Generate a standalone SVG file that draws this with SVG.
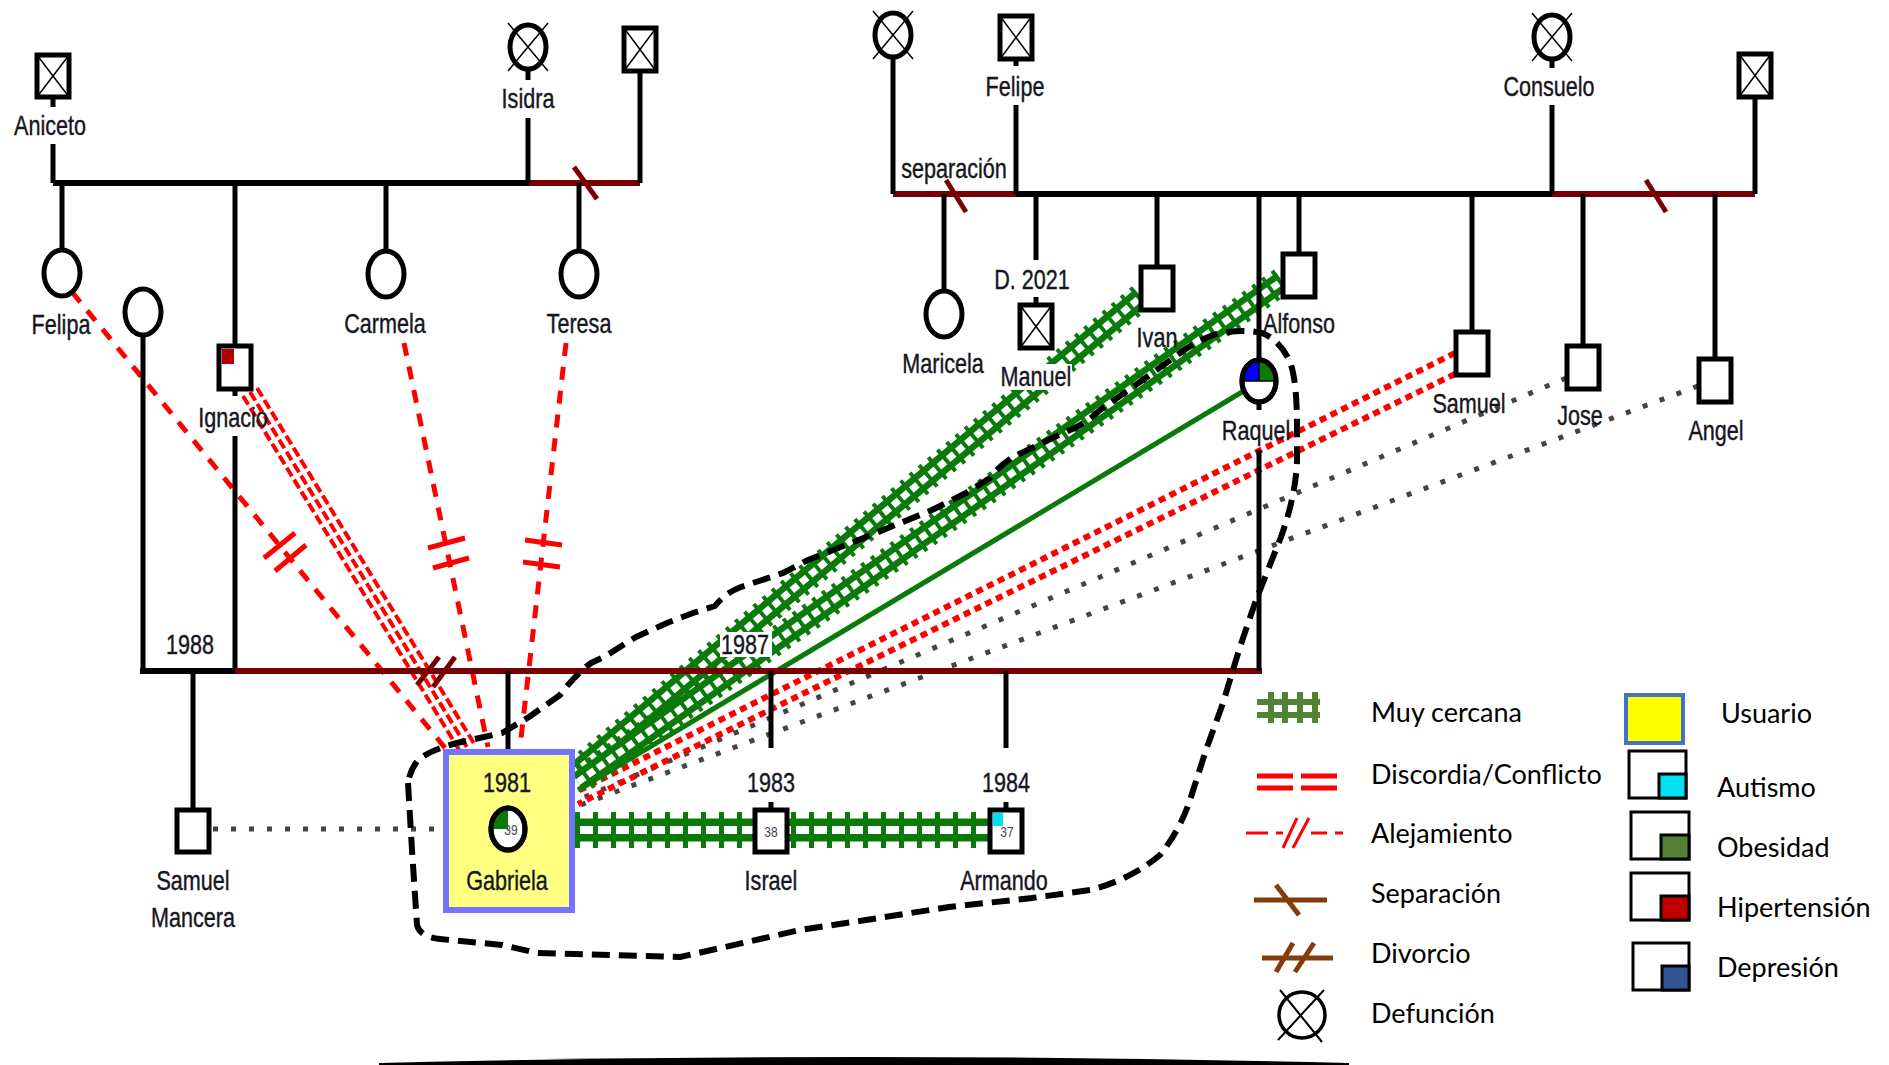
<svg xmlns="http://www.w3.org/2000/svg" xmlns:xlink="http://www.w3.org/1999/xlink" width="1889" height="1065" viewBox="0 0 1889 1065">
<style>
.b{fill:#fff;stroke:#000;stroke-width:5}
.c{fill:#fff;stroke:#000;stroke-width:5}
.x{stroke:#000;stroke-width:1.5;fill:none}
.fl{stroke:#000;stroke-width:5;fill:none}
.fm{stroke:#000;stroke-width:6;fill:none}
.fr{stroke:#780000;stroke-width:6;fill:none}
.sl{stroke:#780000;stroke-width:5;fill:none}
.t{font-family:"Liberation Sans",Arial,sans-serif;font-size:27px;fill:#161622;stroke:#161622;stroke-width:0.4;text-anchor:middle}
.s{font-family:"Liberation Sans",Arial,sans-serif;font-size:15px;fill:#445;text-anchor:middle}
.lg{font-family:Lato,"Liberation Sans",sans-serif;font-size:27px;fill:#000}
.al{stroke:#ff0000;stroke-width:5;fill:none;stroke-dasharray:13 11}
.am{stroke:#ff0000;stroke-width:5;fill:none}
.dc{stroke:#ff0000;stroke-width:4;fill:none;stroke-dasharray:10 4}
.dr{stroke:#ff0000;stroke-width:6;fill:none;stroke-dasharray:7 5}
.gd{stroke:#444;stroke-width:5;fill:none;stroke-dasharray:5 13}
.gl{stroke:#0a7a0a;stroke-width:5;fill:none}
.cb1{stroke:#0a7a0a;stroke-width:20;fill:none}
.cb2{stroke:#fff;stroke-width:7;fill:none}
.cb3{stroke:#0a7a0a;stroke-width:28;fill:none;stroke-dasharray:4 8}
.ch1{stroke:#0a7a0a;stroke-width:23;fill:none}
.ch2{stroke:#fff;stroke-width:8;fill:none}
.ch3{stroke:#0a7a0a;stroke-width:36;fill:none;stroke-dasharray:5 13}
.enc{stroke:#000;stroke-width:6;fill:none;stroke-dasharray:18 9;stroke-linejoin:round}
</style>
<defs>
<path id="rIvan" d="M1141,297 L578,770"/>
<path id="rAlf" d="M1282,281 L578,782"/>
<path id="rSib" d="M575,830 L990,830"/>
</defs>
<rect width="1889" height="1065" fill="#fff"/>

<g id="connectors">
<path class="al" d="M72,292 L446,749"/>
<path class="am" d="M264,558 L295,533 M275,571 L306,545"/>
<path class="al" d="M404,343 L488,747"/>
<path class="am" d="M428,548 L465,538 M433,568 L469,558"/>
<path class="al" d="M566,343 L520,747"/>
<path class="am" d="M525,540 L562,545 M523,562 L560,567"/>
<path class="dc" d="M243,396 L461,753 M250,392 L468,749 M257,388 L475,745"/>
<path class="gd" d="M1566,378 L578,800"/>
<path class="gd" d="M1698,386 L578,806"/>
<path class="gd" d="M213,829 L443,829"/>
<path class="dr" d="M1455,353 L578,791 M1455,374 L578,804"/>
<path class="gl" d="M1242,392 L578,790"/>
<use href="#rIvan" class="cb1"/><use href="#rIvan" class="cb2"/><use href="#rIvan" class="cb3"/>
<use href="#rAlf" class="cb1"/><use href="#rAlf" class="cb2"/><use href="#rAlf" class="cb3"/>
<use href="#rSib" class="ch1"/><use href="#rSib" class="ch2"/><use href="#rSib" class="ch3"/>
</g>

<g id="family-lines">
<path class="fm" d="M53,183 L529,183"/>
<path class="fr" d="M529,183 L640,183"/>
<path class="sl" d="M574,167 L597,199"/>
<path class="fl" d="M53,97 L53,107 M53,144 L53,183 M528,70 L528,80 M528,118 L528,183 M640,71 L640,183 M62,183 L62,250 M235,183 L235,346 M235,389 L235,396 M235,436 L235,671 M386,183 L386,251 M579,183 L579,251 M143,335 L143,671"/>
<path class="fm" d="M140,671 L235,671"/>
<path class="fr" d="M235,671 L1262,671"/>
<path class="sl" d="M417,685 L439,657 M433,687 L455,657"/>
<path class="fl" d="M193,671 L193,810 M508,671 L508,749 M771,671 L771,748 M771,802 L771,810 M1006,671 L1006,748 M1006,802 L1006,810 M1259,194 L1259,360 M1259,402 L1259,410 M1259,450 L1259,671"/>
<path class="fr" d="M893,194 L1016,194"/>
<path class="sl" d="M946,180 L966,212"/>
<path class="fm" d="M1016,194 L1552,194"/>
<path class="fr" d="M1552,194 L1755,194"/>
<path class="sl" d="M1646,180 L1666,212"/>
<path class="fl" d="M893,58 L893,194 M1016,59 L1016,66 M1016,105 L1016,194 M1552,60 L1552,68 M1552,105 L1552,194 M1755,97 L1755,194 M944,194 L944,291 M1036,194 L1036,260 M1036,297 L1036,305 M1157,194 L1157,267 M1299,194 L1299,254 M1472,194 L1472,332 M1583,194 L1583,346 M1715,194 L1715,359"/>
<rect x="1000" y="364" width="72" height="26" fill="#fff"/>
<rect x="720" y="632" width="52" height="25" fill="#fff"/>
<text class="t" transform="translate(190 654) scale(0.8 1)">1988</text>
<text class="t" transform="translate(745 654) scale(0.8 1)">1987</text>
<text class="t" transform="translate(954 178) scale(0.8 1)">separación</text>
</g>

<g id="n-aniceto"><rect class="b" x="37" y="55" width="32" height="42"/><path class="x" d="M37,55L69,97M69,55L37,97"/><text class="t" transform="translate(50 135) scale(0.8 1)">Aniceto</text></g>
<g id="n-isidra"><ellipse class="c" cx="528" cy="47" rx="18" ry="22"/><path class="x" d="M508,23L548,71M548,23L508,71"/><text class="t" transform="translate(528 108) scale(0.8 1)">Isidra</text></g>
<g id="n-abuelo2"><rect class="b" x="624" y="28" width="32" height="43"/><path class="x" d="M624,28L656,71M656,28L624,71"/></g>
<g id="n-felipa"><ellipse class="c" cx="62" cy="273" rx="18" ry="23"/><text class="t" transform="translate(61 334) scale(0.8 1)">Felipa</text></g>
<g id="n-esposa"><ellipse class="c" cx="143" cy="312" rx="18" ry="23"/></g>
<g id="n-ignacio"><rect class="b" x="219" y="346" width="32" height="43"/><rect x="222" y="349" width="12" height="15" fill="#b00000"/><text class="t" transform="translate(233 427) scale(0.8 1)">Ignacio</text></g>
<g id="n-carmela"><ellipse class="c" cx="386" cy="274" rx="18" ry="23"/><text class="t" transform="translate(385 333) scale(0.8 1)">Carmela</text></g>
<g id="n-teresa"><ellipse class="c" cx="579" cy="274" rx="18" ry="23"/><text class="t" transform="translate(579 333) scale(0.8 1)">Teresa</text></g>

<g id="n-abuela3"><ellipse class="c" cx="893" cy="35" rx="18" ry="22"/><path class="x" d="M873,11L913,59M913,11L873,59"/></g>
<g id="n-felipe"><rect class="b" x="1000" y="16" width="32" height="43"/><path class="x" d="M1000,16L1032,59M1032,16L1000,59"/><text class="t" transform="translate(1015 96) scale(0.8 1)">Felipe</text></g>
<g id="n-consuelo"><ellipse class="c" cx="1552" cy="37" rx="18" ry="22"/><path class="x" d="M1532,13L1572,61M1572,13L1532,61"/><text class="t" transform="translate(1549 96) scale(0.8 1)">Consuelo</text></g>
<g id="n-abuelo4"><rect class="b" x="1739" y="54" width="32" height="43"/><path class="x" d="M1739,54L1771,97M1771,54L1739,97"/></g>
<g id="n-maricela"><ellipse class="c" cx="944" cy="314" rx="18" ry="23"/><text class="t" transform="translate(943 373) scale(0.8 1)">Maricela</text></g>
<g id="n-manuel"><rect class="b" x="1020" y="305" width="32" height="43"/><path class="x" d="M1020,305L1052,348M1052,305L1020,348"/><text class="t" transform="translate(1032 289) scale(0.8 1)">D. 2021</text><text class="t" transform="translate(1036 386) scale(0.8 1)">Manuel</text></g>
<g id="n-ivan"><rect class="b" x="1141" y="267" width="32" height="43"/><text class="t" transform="translate(1157 347) scale(0.8 1)">Ivan</text></g>
<g id="n-raquel"><ellipse class="c" cx="1259" cy="381" rx="17" ry="21"/><path d="M1259,381 L1259,360 A17,21 0 0 0 1242,381 Z" fill="#0000ff"/><path d="M1259,381 L1276,381 A17,21 0 0 0 1259,360 Z" fill="#0a7a0a"/><path class="x" d="M1242,381 L1276,381 M1259,360 L1259,381"/><ellipse cx="1259" cy="381" rx="17" ry="21" fill="none" stroke="#000" stroke-width="5"/><text class="t" transform="translate(1256 440) scale(0.8 1)">Raquel</text></g>
<g id="n-alfonso"><rect class="b" x="1283" y="254" width="32" height="43"/><text class="t" transform="translate(1299 333) scale(0.8 1)">Alfonso</text></g>
<g id="n-samuel"><rect class="b" x="1456" y="332" width="32" height="43"/><text class="t" transform="translate(1469 413) scale(0.8 1)">Samuel</text></g>
<g id="n-jose"><rect class="b" x="1567" y="346" width="32" height="43"/><text class="t" transform="translate(1580 425) scale(0.8 1)">Jose</text></g>
<g id="n-angel"><rect class="b" x="1699" y="359" width="32" height="43"/><text class="t" transform="translate(1716 440) scale(0.8 1)">Angel</text></g>

<g id="n-samuel-mancera"><rect class="b" x="177" y="810" width="32" height="42"/><text class="t" transform="translate(193 890) scale(0.8 1)">Samuel</text><text class="t" transform="translate(193 927) scale(0.8 1)">Mancera</text></g>
<g id="n-gabriela"><rect x="446" y="752" width="126" height="158" fill="#ffff80" stroke="#7373ff" stroke-width="6"/><text class="t" transform="translate(507 792) scale(0.8 1)">1981</text><ellipse class="c" cx="508" cy="829" rx="17" ry="21"/><path d="M508,829 L508,808 A17,21 0 0 0 491,829 Z" fill="#0a7a0a"/><ellipse cx="508" cy="829" rx="17" ry="21" fill="none" stroke="#000" stroke-width="5"/><text class="s" transform="translate(511 835) scale(0.8 1)">39</text><text class="t" transform="translate(507 890) scale(0.8 1)">Gabriela</text></g>
<g id="n-israel"><text class="t" transform="translate(771 792) scale(0.8 1)">1983</text><rect class="b" x="755" y="810" width="32" height="42"/><text class="s" transform="translate(771 837) scale(0.8 1)">38</text><text class="t" transform="translate(771 890) scale(0.8 1)">Israel</text></g>
<g id="n-armando"><text class="t" transform="translate(1006 792) scale(0.8 1)">1984</text><rect class="b" x="990" y="810" width="32" height="42"/><rect x="993" y="813" width="10" height="13" fill="#00e0f0"/><text class="s" transform="translate(1007 837) scale(0.8 1)">37</text><text class="t" transform="translate(1004 890) scale(0.8 1)">Armando</text></g>

<g id="enclosure">
<path class="enc" d="M408,783 L412,850 L417,925 Q420,937 440,939 L502,945 L537,953 L680,957 L725,947 L800,930 L866,920 L949,907 L1032,898 L1090,890 Q1130,880 1160,855 Q1180,830 1190,800 L1206,750 L1223,703 L1239,650 L1256,600 L1281,537 Q1296,495 1297,460 L1297,427 Q1297,380 1290,362 Q1280,340 1262,333 Q1240,328 1213,335 Q1195,342 1180,353 L1147,377 L1100,410 Q1090,420 1075,428 L1063,433 L1013,457 Q1000,465 990,478 L966,493 L932,510 L866,537 L808,560 L783,573 L741,587 Q725,593 715,606 L693,613 L667,623 L636,637 L604,657 L591,663 Q575,675 560,695 L529,717 L502,733 L457,743 Q430,750 418,760 Q410,770 408,783 Z"/>
</g>

<g id="legend">
<g id="lg-cercana"><path d="M1257,702 L1320,702 M1257,715 L1320,715 M1271,692 L1271,723 M1285,692 L1285,723 M1300,692 L1300,723 M1315,692 L1315,723" stroke="#548235" stroke-width="6" fill="none"/><text class="lg" x="1371" y="722">Muy cercana</text></g>
<g id="lg-discordia"><path d="M1257,776 L1293,776 M1257,788 L1293,788 M1301,776 L1337,776 M1301,788 L1337,788" stroke="#ff0000" stroke-width="5" fill="none"/><text class="lg" x="1371" y="784">Discordia/Conflicto</text></g>
<g id="lg-alejamiento"><path d="M1246,833 L1268,833 M1276,833 L1283,833 M1283,848 L1297,818 M1293,848 L1309,818 M1311,833 L1327,833 M1335,833 L1343,833" stroke="#ff0000" stroke-width="3" fill="none"/><text class="lg" x="1371" y="843">Alejamiento</text></g>
<g id="lg-separacion"><path d="M1254,900 L1327,900 M1276,885 L1299,915" stroke="#843c0c" stroke-width="5" fill="none"/><text class="lg" x="1371" y="903">Separación</text></g>
<g id="lg-divorcio"><path d="M1262,958 L1333,958 M1276,972 L1293,943 M1295,972 L1314,943" stroke="#843c0c" stroke-width="5" fill="none"/><text class="lg" x="1371" y="963">Divorcio</text></g>
<g id="lg-defuncion"><circle cx="1302" cy="1015" r="23" fill="none" stroke="#000" stroke-width="3.5"/><path d="M1280,990 L1322,1042 M1324,990 L1278,1040" stroke="#000" stroke-width="2" fill="none"/><text class="lg" x="1371" y="1023">Defunción</text></g>
<g id="lg-usuario"><rect x="1626" y="695" width="57" height="48" fill="#ffff00" stroke="#4472c4" stroke-width="4"/><text class="lg" x="1721" y="723">Usuario</text></g>
<g id="lg-autismo"><rect x="1629" y="751" width="57" height="47" fill="#fff" stroke="#000" stroke-width="3"/><rect x="1659" y="774" width="27" height="24" fill="#00e0f0" stroke="#000" stroke-width="3"/><text class="lg" x="1717" y="797">Autismo</text></g>
<g id="lg-obesidad"><rect x="1631" y="812" width="58" height="47" fill="#fff" stroke="#000" stroke-width="3"/><rect x="1661" y="835" width="28" height="24" fill="#548235" stroke="#000" stroke-width="3"/><text class="lg" x="1717" y="857">Obesidad</text></g>
<g id="lg-hipertension"><rect x="1631" y="873" width="58" height="47" fill="#fff" stroke="#000" stroke-width="3"/><rect x="1661" y="896" width="28" height="24" fill="#c00000" stroke="#000" stroke-width="3"/><text class="lg" x="1717" y="917">Hipertensión</text></g>
<g id="lg-depresion"><rect x="1633" y="943" width="56" height="47" fill="#fff" stroke="#000" stroke-width="3"/><rect x="1662" y="966" width="27" height="24" fill="#2f5597" stroke="#000" stroke-width="3"/><text class="lg" x="1717" y="977">Depresión</text></g>
</g>
<path id="base-line" d="M379,1063 Q864,1051 1349,1063 L1349,1065 L379,1065 Z" fill="#000"/>
</svg>
